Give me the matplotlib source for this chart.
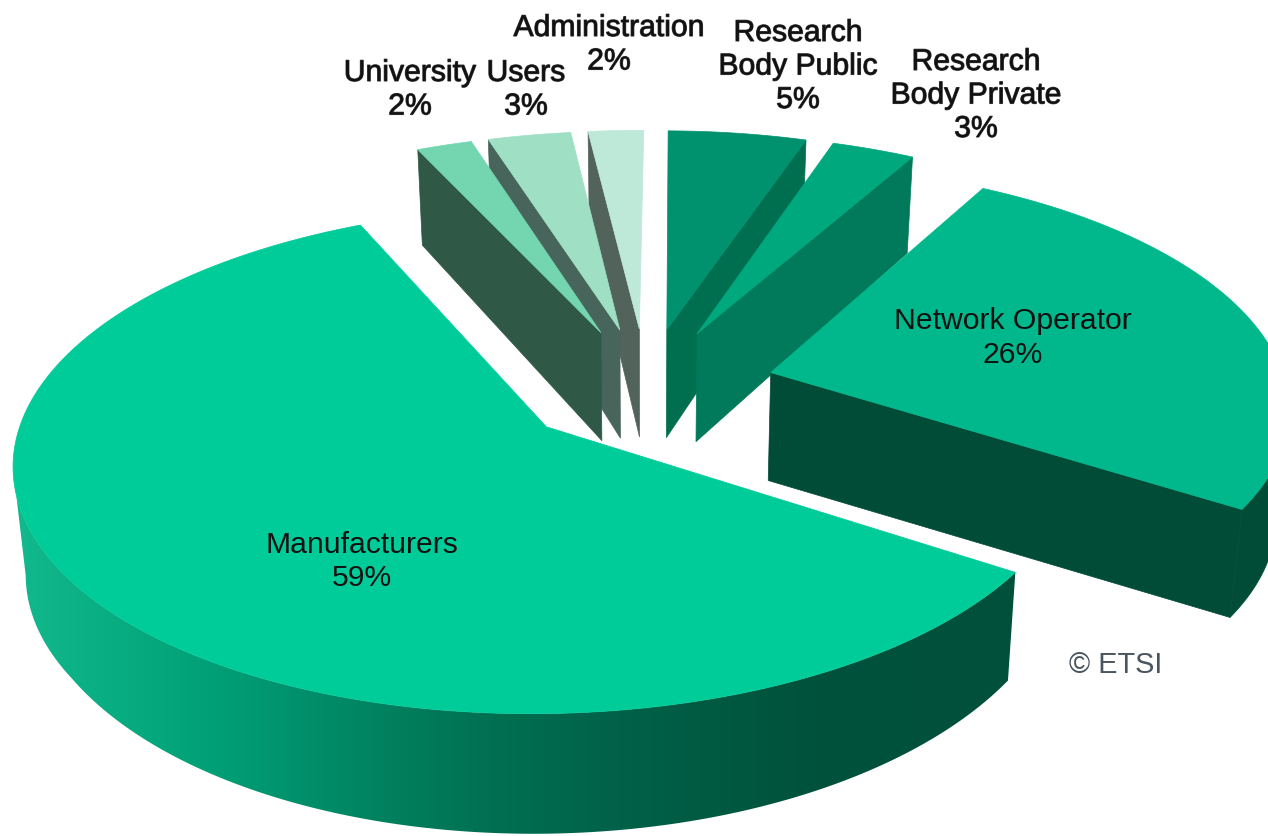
import numpy as np
import matplotlib
matplotlib.use('Agg')
import matplotlib.pyplot as plt
import matplotlib.patheffects as pe
from matplotlib.colors import LinearSegmentedColormap
from matplotlib.patches import Polygon

# clockwise from the far left edge of the pie
names = ['University', 'Users', 'Administration', 'Research\nBody Public',
         'Research\nBody Private', 'Network Operator', 'Manufacturers']
values = [2, 3, 2, 5, 3, 26, 59]

top_colors = ['#73d6b0', '#9fe0c5', '#bee8d7', '#00926e', '#00a87e', '#00b88b', '#00cc99']
side_colors = ['#2f5847', '#47655a', '#52635c', '#006f50', '#007a5a', '#004c37', '#004c37']
label_xy = [(410, 71), (526, 71), (609, 26), (798, 31), (976, 60), (1013, 318), (362, 542)]

# perspective of the pie plane, in pixels
CX, CY = 646.2, 387.8
RADIUS = 515.5
TILT = 0.4624
PERSP = 0.1297
EXPLODE = 0.2508
START_ANGLE = 114.73
BOTTOM_SCALE = 0.98

edges = START_ANGLE - np.r_[0, np.cumsum(values)] * 3.6
mids = (edges[:-1] + edges[1:]) / 2


def project(i, r, theta, z=0.0):
    m, t = np.radians(mids[i]), np.radians(theta)
    px = EXPLODE * np.cos(m) + r * np.cos(t)
    py = EXPLODE * np.sin(m) + r * np.sin(t)
    w = 1 + PERSP * py
    sx = CX + RADIUS * px / w
    sy = CY - RADIUS * TILT * py / w
    # lower face sits below the top one and shrinks slightly
    sx = CX + (sx - CX) * (1 - (1 - BOTTOM_SCALE) * z)
    sy = sy + z * np.interp(py, [-1.2, -0.7, 0.25, 1.25], [121, 108, 108, 94])
    return np.c_[sx, sy]


def radial_face(i, theta):
    top = np.vstack([project(i, 0, theta), project(i, 1, theta)])
    bottom = np.vstack([project(i, 1, theta, 1), project(i, 0, theta, 1)])
    return np.vstack([top, bottom])


def rim_face(i, t):
    return np.vstack([project(i, 1, t), project(i, 1, t[::-1], 1)])


def top_face(i):
    t = np.linspace(edges[i], edges[i + 1], 300)
    return np.vstack([project(i, 0, edges[i]), project(i, 1, t)])


fig = plt.figure(figsize=(12.68, 8.37), dpi=100)
ax = fig.add_axes([0, 0, 1, 1])
ax.axis('off')

# back slices first, the ones nearer the viewer paint over them
for i in [2, 1, 0, 3, 4, 5]:
    if i <= 2:
        ax.add_patch(Polygon(radial_face(i, edges[i]), fc=side_colors[i], ec=side_colors[i], lw=0.5))
    else:
        ax.add_patch(Polygon(radial_face(i, edges[i + 1]), fc=side_colors[i], ec=side_colors[i], lw=0.5))
    if i == 5:
        t = np.linspace(edges[i + 1], edges[i + 1] + 30, 100)
        ax.add_patch(Polygon(rim_face(i, t), fc=side_colors[i], ec=side_colors[i], lw=0.5))
    ax.add_patch(Polygon(top_face(i), fc=top_colors[i], ec=top_colors[i], lw=0.5))

# outer wall of the big slice runs from light on the left to dark on the right,
# and stops at the leftmost point of the rim
wall_cmap = LinearSegmentedColormap.from_list('wall', [
    (0.00, '#12b98d'), (0.12, '#06aa7e'), (0.22, '#009c74'), (0.29, '#008f6a'),
    (0.39, '#007d5c'), (0.49, '#006e50'), (0.59, '#006349'), (0.69, '#005a42'),
    (0.79, '#00523c'), (1.00, '#00503b')])
t = np.linspace(edges[6], edges[7], 600)
t = t[:np.argmin(project(6, 1, t)[:, 0]) + 1]
wall = Polygon(rim_face(6, t), fc='none', ec='none', transform=ax.transData)
ax.add_patch(wall)
grad = ax.imshow(np.linspace(0, 1, 512)[None, :], cmap=wall_cmap, aspect='auto',
                 extent=(15, 1020, 837, 0), zorder=1)
grad.set_clip_path(wall)
ax.add_patch(Polygon(top_face(6), fc=top_colors[6], ec=top_colors[6], lw=0.5, zorder=2))

ax.set_xlim(0, 1268)
ax.set_ylim(837, 0)

for i, (name, v) in enumerate(zip(names, values)):
    x, y = label_xy[i]
    effects = [pe.withStroke(linewidth=0.8, foreground='#444444')] if i < 5 else None
    ax.text(x, y - 11, f'{name}\n{v}%', ha='center', va='top', fontsize=21.7,
            family='Liberation Sans', color='#111111', linespacing=1.25, zorder=5,
            path_effects=effects)

ax.text(1116, 665, '\u00a9 ETSI', ha='center', va='center', fontsize=20.8,
        family='Liberation Sans', color='#4a5560', zorder=5)

fig.savefig('out.png', dpi=100)
